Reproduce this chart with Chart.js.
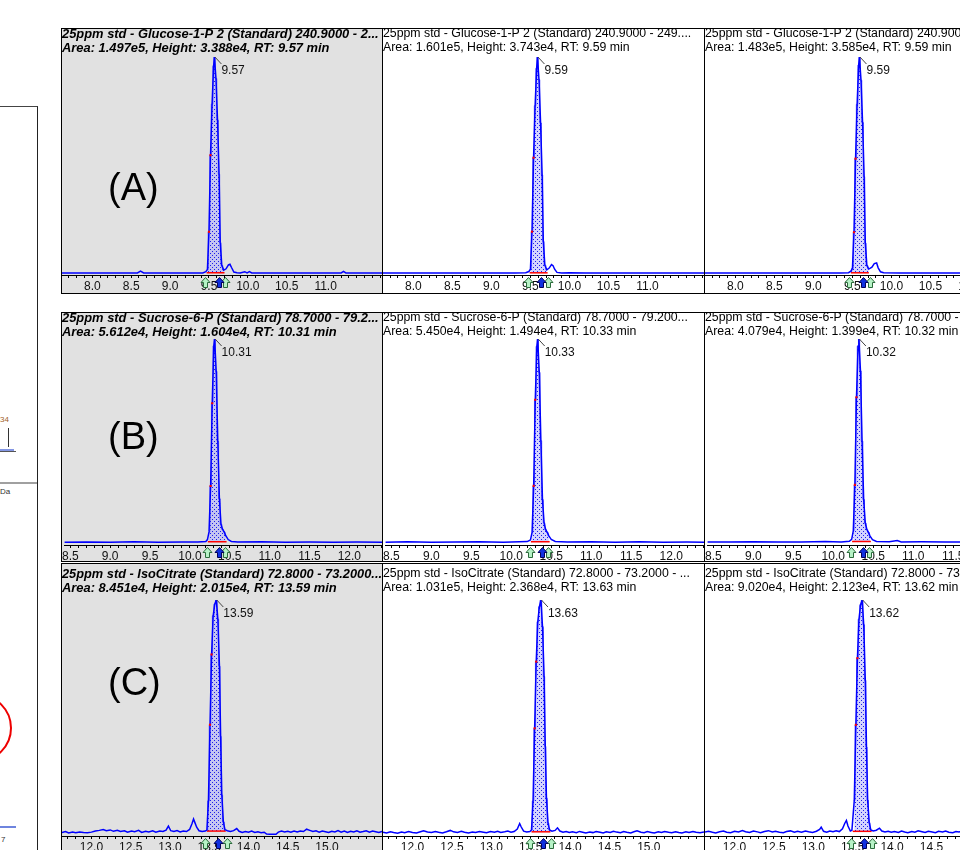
<!DOCTYPE html>
<html><head><meta charset="utf-8">
<title>Chromatograms</title>
<script src="https://cdn.jsdelivr.net/npm/chart.js@4.4.1/dist/chart.umd.min.js"></script>
<style>
html,body{margin:0;padding:0;background:#fff;}
body{width:960px;height:850px;overflow:hidden;position:relative;font-family:"Liberation Sans",Arial,sans-serif;}
.panel{position:absolute;box-sizing:border-box;border:1px solid #000;overflow:hidden;background:#fff;}
.panel.sel{background:#e1e1e1;}
.panel canvas{position:absolute;left:0;top:0;}
.big{position:absolute;left:108px;font-size:38px;line-height:38px;color:#000;z-index:5;}
.tiny{position:absolute;font-size:8px;line-height:8px;color:#333;}
.ln{position:absolute;}
</style></head><body>
<div class="ln" style="left:-1px;top:106px;width:39px;height:760px;border-top:1px solid #444;border-right:1px solid #222;box-sizing:border-box;"></div>
<div class="ln" style="left:0;top:482px;width:37px;height:2px;background:#a0a0a0;"></div>
<div class="tiny" style="left:0;top:416px;color:#a0622a;">34</div>
<div class="ln" style="left:8px;top:428px;width:1px;height:19px;background:#333;"></div>
<div class="ln" style="left:0;top:451px;width:16px;height:1px;background:#555;"></div>
<div class="ln" style="left:0;top:449px;width:14px;height:2px;background:#3050d0;opacity:.6;"></div>
<div class="tiny" style="left:0;top:488px;">Da</div>
<div class="ln" style="left:-56px;top:694px;width:64px;height:64px;border:2px solid #e00;border-radius:50%;"></div>
<div class="ln" style="left:0;top:826px;width:16px;height:2px;background:#3050d0;opacity:.7;"></div>
<div class="tiny" style="left:1px;top:836px;">7</div>

<div class="big" style="top:168px;">(A)</div>
<div class="big" style="top:417px;">(B)</div>
<div class="big" style="top:663px;">(C)</div>

<script>
const FONT = '"Liberation Sans", Arial, sans-serif';

// ---- tick labels (minutes) ----
const tickLabelsA = ['8.0','8.5','9.0','9.5','10.0','10.5','11.0'];
const tickLabelsB = ['8.5','9.0','9.5','10.0','10.5','11.0','11.5','12.0'];
const tickLabelsC = ['12.0','12.5','13.0','13.5','14.0','14.5','15.0'];

// ---- panel titles ----
const titlesA = ['25ppm std - Glucose-1-P 2 (Standard) 240.9000 - 2...',
                 '25ppm std - Glucose-1-P 2 (Standard) 240.9000 - 249....',
                 '25ppm std - Glucose-1-P 2 (Standard) 240.9000 - 249....'];
const titlesB = ['25ppm std - Sucrose-6-P (Standard) 78.7000 - 79.2...',
                 '25ppm std - Sucrose-6-P (Standard) 78.7000 - 79.200...',
                 '25ppm std - Sucrose-6-P (Standard) 78.7000 - 79.200...'];
const titlesC = ['25ppm std - IsoCitrate (Standard) 72.8000 - 73.2000...',
                 '25ppm std - IsoCitrate (Standard) 72.8000 - 73.2000 - ...',
                 '25ppm std - IsoCitrate (Standard) 72.8000 - 73.2000 - ...'];

// ---- peak results ----
const areasA = [1.497e5, 1.601e5, 1.483e5];
const heightsA = [3.388e4, 3.743e4, 3.585e4];
const rtA = [9.57, 9.59, 9.59];
const areasB = [5.612e4, 5.450e4, 4.079e4];
const heightsB = [1.604e4, 1.494e4, 1.399e4];
const rtB = [10.31, 10.33, 10.32];
const areasC = [8.451e4, 1.031e5, 9.020e4];
const heightsC = [2.015e4, 2.368e4, 2.123e4];
const rtC = [13.59, 13.63, 13.62];

// ---- traces [time (min), intensity] ----
const traceA1 = [[7.61,60],[7.8,50],[8.0,60],[8.2,50],[8.4,60],[8.58,50],[8.62,350],[8.66,60],[8.9,50],[9.1,60],[9.3,50],[9.42,60],[9.46,250],[9.48,600],[9.50,6500],[9.52,18500],[9.54,26500],[9.56,32500],[9.57,33880],[9.59,30500],[9.61,24000],[9.63,15500],[9.645,4800],[9.665,1200],[9.69,500],[9.72,700],[9.75,1300],[9.77,1400],[9.79,900],[9.82,200],[9.86,80],[9.9,60],[9.96,250],[9.99,60],[10.02,250],[10.05,60],[10.3,50],[10.6,60],[10.9,50],[11.2,60],[11.23,300],[11.26,60],[11.5,50],[11.725,60]];
const traceA2 = [[7.61,50],[7.9,60],[8.2,50],[8.5,60],[8.8,50],[9.1,60],[9.3,50],[9.44,80],[9.48,300],[9.50,700],[9.52,7200],[9.54,20000],[9.56,29000],[9.58,35500],[9.59,37430],[9.61,33500],[9.63,26000],[9.65,17000],[9.665,5500],[9.685,1400],[9.71,600],[9.74,900],[9.77,1500],[9.79,1300],[9.81,700],[9.84,150],[9.9,60],[10.0,80],[10.2,50],[10.5,60],[10.8,50],[11.1,60],[11.4,50],[11.725,60]];
const traceA3 = [[7.61,60],[7.9,50],[8.2,60],[8.5,50],[8.8,60],[9.1,50],[9.35,60],[9.45,100],[9.48,350],[9.50,800],[9.52,6800],[9.54,19000],[9.56,28000],[9.58,34500],[9.59,35850],[9.61,32000],[9.63,25000],[9.65,16000],[9.665,5000],[9.685,1300],[9.71,700],[9.75,1000],[9.78,1600],[9.81,1700],[9.83,900],[9.86,250],[9.9,80],[10.1,60],[10.4,50],[10.7,60],[11.0,50],[11.3,60],[11.725,50]];

const traceB1 = [[8.425,80],[8.7,100],[9.0,80],[9.3,120],[9.6,90],[9.9,110],[10.1,100],[10.2,150],[10.22,300],[10.24,900],[10.26,4500],[10.28,11000],[10.30,15500],[10.31,16040],[10.33,13500],[10.35,8000],[10.37,3500],[10.39,1500],[10.41,1100],[10.43,900],[10.45,600],[10.48,300],[10.52,150],[10.6,100],[10.9,120],[11.2,90],[11.5,110],[11.8,90],[12.1,110],[12.41,90]];
const traceB2 = [[8.425,90],[8.7,110],[9.0,90],[9.3,100],[9.6,120],[9.9,90],[10.1,110],[10.2,130],[10.24,250],[10.26,800],[10.28,4200],[10.30,10500],[10.32,14400],[10.33,14940],[10.35,12500],[10.37,7500],[10.39,3200],[10.41,1500],[10.43,1000],[10.45,800],[10.47,550],[10.50,280],[10.55,140],[10.7,100],[11.0,120],[11.3,90],[11.6,110],[11.9,90],[12.2,100],[12.41,90]];
const traceB3 = [[8.425,100],[8.7,90],[9.0,110],[9.3,90],[9.6,100],[9.9,120],[10.1,90],[10.2,140],[10.23,280],[10.25,850],[10.27,4000],[10.29,10000],[10.31,13500],[10.32,13990],[10.34,11800],[10.36,7000],[10.38,3000],[10.40,1400],[10.42,950],[10.44,750],[10.46,500],[10.49,260],[10.54,130],[10.7,110],[10.8,200],[10.85,100],[11.1,110],[11.4,90],[11.7,100],[12.0,110],[12.41,90]];

const traceC1 = [[11.625,300],[11.67,380],[11.71,260],[11.76,330],[11.80,280],[11.85,350],[11.90,300],[11.95,270],[12.00,330],[12.05,420],[12.10,480],[12.15,560],[12.19,450],[12.24,520],[12.28,400],[12.33,480],[12.37,380],[12.42,450],[12.46,320],[12.51,420],[12.55,360],[12.60,480],[12.64,300],[12.69,400],[12.73,340],[12.78,440],[12.82,330],[12.87,420],[12.91,380],[12.95,500],[12.98,850],[13.01,450],[13.05,380],[13.09,460],[13.13,340],[13.17,420],[13.21,380],[13.25,560],[13.28,1050],[13.30,1450],[13.32,1100],[13.34,750],[13.37,450],[13.41,380],[13.45,420],[13.47,500],[13.49,3000],[13.51,9500],[13.53,15500],[13.55,18800],[13.57,19800],[13.59,20150],[13.61,18500],[13.63,14500],[13.645,8500],[13.66,3500],[13.68,1200],[13.70,550],[13.73,450],[13.77,380],[13.81,460],[13.85,640],[13.88,400],[13.92,300],[13.96,380],[14.00,320],[14.04,420],[14.08,300],[14.12,360],[14.16,280],[14.20,320],[14.23,160],[14.27,140],[14.31,160],[14.35,150],[14.38,330],[14.42,420],[14.46,350],[14.50,400],[14.54,320],[14.58,420],[14.62,350],[14.66,430],[14.70,380],[14.74,580],[14.78,480],[14.82,380],[14.86,440],[14.90,320],[14.94,420],[14.98,360],[15.02,300],[15.06,410],[15.10,350],[15.14,470],[15.18,330],[15.22,420],[15.26,300],[15.30,400],[15.34,350],[15.38,440],[15.42,320],[15.46,380],[15.50,450],[15.54,330],[15.58,420],[15.62,360],[15.66,300],[15.70,380]];
const traceC2 = [[11.625,380],[11.67,300],[11.72,420],[11.76,350],[11.81,280],[11.86,400],[11.90,330],[11.95,450],[12.00,360],[12.05,300],[12.10,420],[12.14,520],[12.19,400],[12.24,350],[12.29,460],[12.33,380],[12.38,300],[12.43,420],[12.48,560],[12.52,420],[12.57,350],[12.62,470],[12.66,380],[12.71,300],[12.76,410],[12.80,350],[12.85,460],[12.90,380],[12.94,320],[12.99,450],[13.04,380],[13.08,480],[13.12,350],[13.17,420],[13.21,500],[13.25,380],[13.29,450],[13.33,700],[13.36,1250],[13.38,900],[13.41,480],[13.45,400],[13.49,450],[13.51,600],[13.53,3500],[13.55,10800],[13.57,17500],[13.59,21500],[13.61,23000],[13.63,23680],[13.65,21000],[13.67,16000],[13.685,9000],[13.70,3800],[13.72,1300],[13.74,600],[13.77,480],[13.81,560],[13.84,820],[13.87,500],[13.91,380],[13.95,450],[13.99,350],[14.03,420],[14.08,330],[14.12,460],[14.16,380],[14.20,300],[14.25,400],[14.29,340],[14.33,450],[14.38,370],[14.42,300],[14.46,420],[14.51,360],[14.55,480],[14.59,390],[14.64,320],[14.68,440],[14.72,370],[14.77,300],[14.81,420],[14.85,520],[14.90,380],[14.94,330],[14.98,440],[15.03,360],[15.07,300],[15.12,420],[15.16,350],[15.20,450],[15.25,370],[15.29,320],[15.34,430],[15.38,360],[15.42,300],[15.47,420],[15.51,350],[15.56,460],[15.60,380],[15.65,320],[15.70,400]];
const traceC3 = [[11.625,350],[11.67,420],[11.72,330],[11.76,280],[11.81,390],[11.86,450],[11.90,340],[11.95,300],[12.00,420],[12.05,360],[12.10,480],[12.14,380],[12.19,320],[12.24,440],[12.29,370],[12.33,300],[12.38,410],[12.43,480],[12.48,360],[12.52,430],[12.57,340],[12.62,290],[12.66,400],[12.71,460],[12.76,350],[12.80,420],[12.85,330],[12.90,450],[12.94,380],[12.99,320],[13.04,430],[13.08,600],[13.10,800],[13.13,420],[13.17,350],[13.21,450],[13.25,380],[13.29,470],[13.33,400],[13.37,650],[13.40,1150],[13.42,1400],[13.44,900],[13.47,450],[13.49,520],[13.52,3200],[13.54,10000],[13.56,16000],[13.58,19500],[13.60,20800],[13.62,21230],[13.64,19000],[13.66,14000],[13.675,8000],[13.69,3200],[13.71,1200],[13.73,550],[13.76,450],[13.80,520],[13.84,700],[13.87,450],[13.91,360],[13.95,430],[13.99,330],[14.03,400],[14.08,310],[14.12,440],[14.16,360],[14.20,300],[14.25,410],[14.29,350],[14.33,460],[14.38,380],[14.42,320],[14.46,430],[14.51,360],[14.55,300],[14.59,420],[14.64,370],[14.68,450],[14.72,340],[14.77,300],[14.81,410],[14.85,360],[14.90,470],[14.94,380],[14.98,320],[15.03,430],[15.07,360],[15.12,300],[15.16,410],[15.20,350],[15.25,460],[15.29,380],[15.34,320],[15.38,420],[15.42,360],[15.47,300],[15.51,410],[15.56,350],[15.60,440],[15.65,370],[15.70,320]];

// ---- integration [start, end, baseline level] ----
const integA = [[9.47,9.70,80],[9.49,9.72,80],[9.48,9.71,80]];
const integB = [[10.225,10.46,120],[10.245,10.48,120],[10.235,10.47,120]];
const integC = [[13.47,13.71,420],[13.51,13.75,420],[13.50,13.74,420]];
// ---- marker arrows [start, apex marker, end] ----
const marksA = [[9.45,9.63,9.70],[9.47,9.64,9.73],[9.46,9.64,9.73]];
const marksB = [[10.21,10.36,10.44],[10.23,10.38,10.46],[10.22,10.37,10.45]];
const marksC = [[13.45,13.61,13.72],[13.49,13.65,13.76],[13.48,13.64,13.75]];
// ---- red peak-flank marks (times) ----
const redA = [[9.52,9.50],[9.54,9.52],[9.54,9.52]];
const redB = [[10.28,10.26],[10.30,10.28],[10.29,10.27]];
const redC = [[13.53,13.51],[13.57,13.55],[13.56,13.54]];

const AXIS_H = 21;   // tick length 3 + label line 18
const rows = [
  {top:28, h:266, canvasH:268, padTop:-2, padBottom:2, axis:246, xMin:7.61, xMax:11.725, yMinFrac:-0.008,
   ticks:tickLabelsA, titles:titlesA, areas:areasA, heights:heightsA, rts:rtA,
   traces:[traceA1,traceA2,traceA3], integ:integA, marks:marksA, reds:redA},
  {top:312, h:250, canvasH:254, padTop:-2, padBottom:0, axis:232, xMin:8.425, xMax:12.41, yMinFrac:-0.008,
   ticks:tickLabelsB, titles:titlesB, areas:areasB, heights:heightsB, rts:rtB,
   traces:[traceB1,traceB2,traceB3], integ:integB, marks:marksB, reds:redB},
  {top:563, h:300, canvasH:294, padTop:3, padBottom:5, axis:272, xMin:11.625, xMax:15.70, yMinFrac:0,
   ticks:tickLabelsC, titles:titlesC, areas:areasC, heights:heightsC, rts:rtC,
   traces:[traceC1,traceC2,traceC3], integ:integC, marks:marksC, reds:redC}
];
const cols = [{left:61,w:322,sel:true},{left:382,w:323,sel:false},{left:704,w:323,sel:false}];

function fmtExp(v){ return v.toExponential(3).replace('e+','e'); }

function makePattern(ctx){
  const c = document.createElement('canvas'); c.width = 4; c.height = 4;
  const g = c.getContext('2d');
  g.fillStyle = 'rgba(175,175,255,0.55)'; g.fillRect(0,0,4,4);
  g.fillStyle = 'rgba(20,20,230,0.95)'; g.fillRect(0,0,1,1); g.fillRect(2,2,1,1);
  return ctx.createPattern(c, 'repeat');
}

function drawArrow(ctx, x, y, fill, stroke){
  x = Math.round(x) + 0.5; y = Math.round(y) + 0.5;
  ctx.beginPath();
  ctx.moveTo(x, y); ctx.lineTo(x+4.5, y+5); ctx.lineTo(x+2, y+5); ctx.lineTo(x+2, y+10);
  ctx.lineTo(x-2, y+10); ctx.lineTo(x-2, y+5); ctx.lineTo(x-4.5, y+5); ctx.closePath();
  ctx.fillStyle = fill; ctx.fill();
  ctx.strokeStyle = stroke; ctx.lineWidth = 1; ctx.stroke();
}

const peakDecor = {
  id: 'peakDecor',
  afterDraw(chart, args, opts){
    const ctx = chart.ctx, xs = chart.scales.x, ys = chart.scales.y;
    let apex = opts.trace[0];
    for (const p of opts.trace) if (p[1] > apex[1]) apex = p;
    const px = xs.getPixelForValue(apex[0]), py = ys.getPixelForValue(apex[1]);
    ctx.save();
    ctx.strokeStyle = '#444'; ctx.lineWidth = 1;
    ctx.beginPath(); ctx.moveTo(px+0.5, py); ctx.lineTo(px+7, py+7); ctx.stroke();
    ctx.fillStyle = '#111'; ctx.font = '12px ' + FONT;
    ctx.textBaseline = 'middle'; ctx.textAlign = 'left';
    ctx.fillText(opts.rt.toFixed(2), px+7, py+14);
    const ay = chart.chartArea.bottom + 2;
    drawArrow(ctx, xs.getPixelForValue(opts.marks[0]), ay, '#b6f2c6', '#2b6b3b');
    drawArrow(ctx, xs.getPixelForValue(opts.marks[2]), ay, '#b6f2c6', '#2b6b3b');
    drawArrow(ctx, xs.getPixelForValue(opts.marks[1]), ay, '#1030e0', '#00005a');
    ctx.restore();
  }
};

rows.forEach((row) => {
  cols.forEach((col, ci) => {
    const panel = document.createElement('div');
    panel.className = 'panel' + (col.sel ? ' sel' : '');
    panel.style.left = col.left + 'px'; panel.style.top = row.top + 'px';
    panel.style.width = col.w + 'px'; panel.style.height = row.h + 'px';
    const cv = document.createElement('canvas');
    cv.width = col.w - 2; cv.height = row.canvasH;
    cv.style.width = cv.width + 'px'; cv.style.height = cv.height + 'px';
    panel.appendChild(cv);
    document.body.appendChild(panel);

    const trace = row.traces[ci];
    const integ = row.integ[ci];
    const height = row.heights[ci];
    const fillPts = trace.filter(p => p[0] >= integ[0] && p[0] <= integ[1]);
    const redPts = row.reds[ci].map(t => trace.find(p => Math.abs(p[0]-t) < 1e-9)).filter(Boolean);
    const line2 = 'Area: ' + fmtExp(row.areas[ci]) + ', Height: ' + fmtExp(height) + ', RT: ' + row.rts[ci].toFixed(2) + ' min';
    const labels = row.ticks;

    new Chart(cv, {
      type: 'line',
      data: { datasets: [
        {data: redPts, showLine: false, pointRadius: 1.5, pointStyle: 'rect', pointBackgroundColor: '#ff0000', pointBorderWidth: 0, order: -1},
        {data: trace, borderColor: '#0000ff', borderWidth: 1.5, pointRadius: 0, fill: false, order: 0},
        {data: [[integ[0], integ[2]], [integ[1], integ[2]]], borderColor: '#ff0000', borderWidth: 1.5, pointRadius: 0, fill: false, order: 1},
        {data: fillPts, borderColor: 'rgba(70,70,255,0.85)', borderWidth: 1, stepped: 'middle', pointRadius: 0,
         fill: {value: integ[2]}, backgroundColor: makePattern(cv.getContext('2d')), order: 2}
      ]},
      options: {
        responsive: false, animation: false, events: [],
        layout: {autoPadding: false, padding: {left: 0, right: 0, top: 0, bottom: row.canvasH - row.axis - AXIS_H}},
        plugins: {
          legend: {display: false}, tooltip: {enabled: false},
          title: {display: true, align: 'start', text: [row.titles[ci], line2], color: '#000',
                  font: {family: FONT, size: col.sel ? 12.9 : 12.3, weight: col.sel ? 'bold' : 'normal', style: col.sel ? 'italic' : 'normal', lineHeight: '14px'},
                  padding: {top: row.padTop, bottom: row.padBottom}},
          peakDecor: {trace: trace, rt: row.rts[ci], marks: row.marks[ci]}
        },
        scales: {
          x: {type: 'linear', min: row.xMin, max: row.xMax,
              afterBuildTicks: (scale) => {
                const t = [];
                for (let v = Math.ceil(scale.min*10 - 1e-6); v <= Math.floor(scale.max*10 + 1e-6); v++) t.push({value: v/10});
                scale.ticks = t;
              },
              ticks: {callback: (v) => labels.includes(Number(v).toFixed(1)) ? Number(v).toFixed(1) : '',
                      autoSkip: false, maxRotation: 0, minRotation: 0, padding: 0, color: '#111',
                      font: {family: FONT, size: 12, lineHeight: '18px'}},
              grid: {display: true, drawOnChartArea: false, drawTicks: true, tickLength: 3, color: '#000'},
              border: {display: true, color: '#000', width: 1}},
          y: {display: false, min: height * row.yMinFrac, max: height}
        }
      },
      plugins: [peakDecor]
    });
  });
});
</script>
</body></html>
